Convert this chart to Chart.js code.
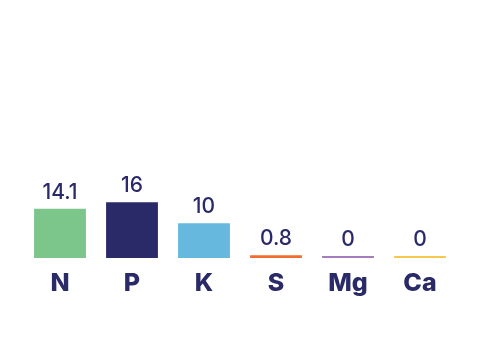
<!DOCTYPE html>
<html>
<head>
<meta charset="utf-8">
<script src="https://cdn.jsdelivr.net/npm/chart.js@4"></script>
<style>
  html, body { margin: 0; padding: 0; background: #fff; }
  #wrap { width: 480px; height: 343px; }
</style>
</head>
<body>
<div id="wrap"><canvas id="nutrients"></canvas></div>
<script>
const nutrients = ["N", "P", "K", "S", "Mg", "Ca"];
const amounts = [14.1, 16, 10, 0.8, 0, 0];
const barColors = ["#7cc58b", "#2b2a69", "#66b8de", "#f26b2f", "#a47dbf", "#f7c84b"];

const navy = "#2b2a69";

// value above each bar, taken from the bar element itself
const valueLabels = {
    id: 'valueLabels',
    afterDatasetsDraw(chart) {
        const ctx = chart.ctx;
        const meta = chart.getDatasetMeta(0);
        ctx.save();
        ctx.font = '500 21px Inter';
        ctx.fillStyle = navy;
        ctx.textAlign = 'center';
        ctx.textBaseline = 'alphabetic';
        meta.data.forEach(function (bar, i) {
            const top = Math.min(bar.y, bar.base);
            ctx.fillText(String(chart.data.datasets[0].data[i]), bar.x, top - 10);
        });
        ctx.restore();
    }
};

const nutrientBar = new Chart(document.getElementById("nutrients"), {
    type: 'bar',
    data: {
        labels: nutrients,
        datasets: [
            {
                data: amounts,
                backgroundColor: barColors,
                borderWidth: 0,
                minBarLength: 2,
                barPercentage: 0.72,
                categoryPercentage: 1
            }
        ]
    },
    options: {
        responsive: true,
        maintainAspectRatio: false,
        animation: false,
        layout: {
            padding: { top: 14, left: 24, right: 24, bottom: 43 }
        },
        plugins: {
            legend: { display: false },
            tooltip: { enabled: false }
        },
        scales: {
            x: {
                grid: { display: false },
                border: { display: false },
                ticks: {
                    padding: 2,
                    color: navy,
                    font: { family: 'Inter', size: 25, weight: '800' }
                }
            },
            y: {
                display: false,
                min: 0,
                max: 70
            }
        }
    },
    plugins: [valueLabels]
});
</script>
</body>
</html>
